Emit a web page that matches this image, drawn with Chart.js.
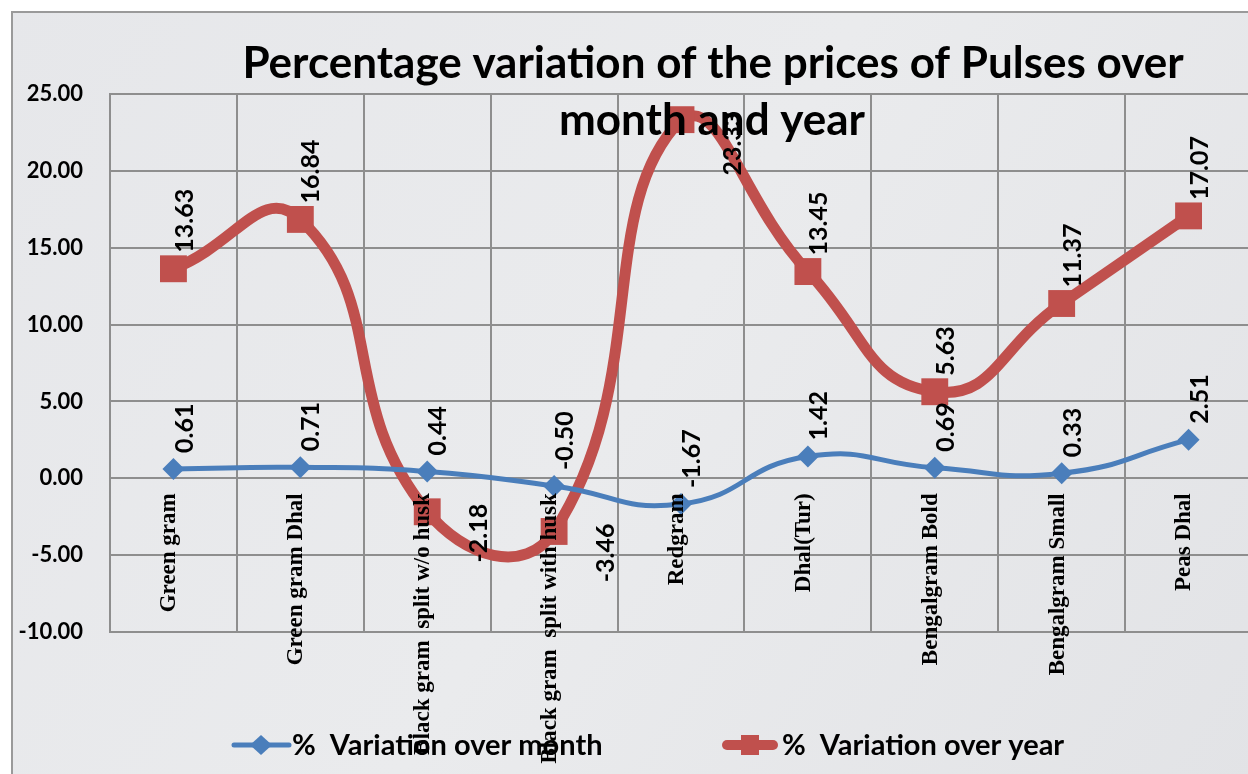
<!DOCTYPE html>
<html>
<head>
<meta charset="utf-8">
<script src="https://cdn.jsdelivr.net/npm/chart.js@4"></script>
<style>
    html, body { margin: 0; padding: 0; overflow: hidden; background: #ffffff; width: 1248px; height: 774px; }
    #pulsesCanvas { display: block; }
</style>
</head>
<body>
<canvas id="pulsesCanvas" width="1271" height="774"></canvas>
<script>
    const categories = [
        'Green gram',
        'Green gram Dhal',
        'Black gram  split w/o husk',
        'Black gram  split with husk',
        'Redgram',
        'Dhal(Tur)',
        'Bengalgram Bold',
        'Bengalgram Small',
        'Peas Dhal'
    ];
    const monthVariation = [0.61, 0.71, 0.44, -0.50, -1.67, 1.42, 0.69, 0.33, 2.51];
    const yearVariation = [13.63, 16.84, -2.18, -3.46, 23.33, 13.45, 5.63, 11.37, 17.07];
    const yTicks = [-10, -5, 0, 5, 10, 15, 20, 25];
    const seriesNames = ['%  Variation over month', '%  Variation over year'];
    const titleLines = ['Percentage variation of the prices of Pulses over', 'month and year'];

    const BLUE = '#4a7ebb';
    const RED = '#c0504d';
    const GRID = '#8e8e8e';

    // фон, рамка
    const backgroundPlugin = {
        id: 'marbleBg',
        beforeDraw(chart) {
            const ctx = chart.ctx;
            ctx.save();
            ctx.fillStyle = '#ffffff';
            ctx.fillRect(0, 0, chart.width, chart.height);
            const g = ctx.createLinearGradient(0, 0, chart.width, chart.height);
            g.addColorStop(0, '#e6e7ea');
            g.addColorStop(0.5, '#eaebed');
            g.addColorStop(1, '#e2e3e6');
            ctx.fillStyle = g;
            ctx.fillRect(12, 12, chart.width, chart.height);
            ctx.strokeStyle = '#9a9a9a';
            ctx.lineWidth = 2;
            ctx.beginPath();
            ctx.moveTo(12, chart.height);
            ctx.lineTo(12, 12);
            ctx.lineTo(chart.width, 12);
            ctx.stroke();
            ctx.restore();
        }
    };

    function drawRotated(ctx, text, x, y, align) {
        ctx.save();
        ctx.translate(x, y);
        ctx.rotate(-Math.PI / 2);
        ctx.textAlign = align;
        ctx.textBaseline = 'middle';
        ctx.fillText(text, 0, 0);
        ctx.restore();
    }

    // подписи значений, категорий, заголовок, легенда
    const overlayPlugin = {
        id: 'overlay',
        afterDatasetsDraw(chart) {
            const ctx = chart.ctx;
            const yScale = chart.scales.y;
            const zeroY = yScale.getPixelForValue(0);
            const maxYear = Math.max(...yearVariation);

            ctx.save();
            ctx.fillStyle = '#000000';

            // категории по линии нуля
            ctx.font = 'bold 23px "Liberation Serif", serif';
            const meta0 = chart.getDatasetMeta(0);
            meta0.data.forEach((pt, i) => {
                drawRotated(ctx, categories[i], pt.x - 4, zeroY + 15, 'right');
            });

            // значения
            ctx.font = 'bold 25px Lato, sans-serif';
            chart.data.datasets.forEach((ds, di) => {
                const meta = chart.getDatasetMeta(di);
                meta.data.forEach((pt, i) => {
                    const v = ds.data[i];
                    const text = v.toFixed(2);
                    if (di === 1 && (v < 0 || v === maxYear)) {
                        drawRotated(ctx, text, pt.x + 52, pt.y - 8, 'right');
                    } else {
                        drawRotated(ctx, text, pt.x + 11, pt.y - 16, 'left');
                    }
                });
            });
            ctx.restore();
        },
        afterDraw(chart) {
            const ctx = chart.ctx;
            ctx.save();
            ctx.fillStyle = '#000000';
            ctx.textAlign = 'center';
            ctx.textBaseline = 'alphabetic';
            ctx.font = 'bold 44px Lato, sans-serif';
            ctx.fillText(titleLines[0], 713, 78);
            ctx.fillText(titleLines[1], 712, 135);

            // легенда
            const ly = 745;
            ctx.lineCap = 'round';
            ctx.strokeStyle = BLUE;
            ctx.lineWidth = 5;
            ctx.beginPath();
            ctx.moveTo(234, ly);
            ctx.lineTo(289, ly);
            ctx.stroke();
            ctx.fillStyle = BLUE;
            ctx.beginPath();
            ctx.moveTo(261, ly - 10);
            ctx.lineTo(272, ly);
            ctx.lineTo(261, ly + 10);
            ctx.lineTo(250, ly);
            ctx.closePath();
            ctx.fill();

            ctx.strokeStyle = RED;
            ctx.lineWidth = 10;
            ctx.beginPath();
            ctx.moveTo(727, ly);
            ctx.lineTo(773, ly);
            ctx.stroke();
            ctx.fillStyle = RED;
            ctx.fillRect(741, ly - 10, 18, 20);

            ctx.fillStyle = '#000000';
            ctx.textAlign = 'left';
            ctx.textBaseline = 'middle';
            ctx.font = 'bold 29px Lato, sans-serif';
            ctx.fillText(seriesNames[0], 292, ly + 1);
            ctx.fillText(seriesNames[1], 782, ly + 1);
            ctx.restore();
        }
    };

    const ctx = document.getElementById('pulsesCanvas').getContext('2d');
    new Chart(ctx, {
        type: 'line',
        data: {
            labels: categories,
            datasets: [
                {
                    label: seriesNames[0],
                    data: monthVariation,
                    borderColor: BLUE,
                    backgroundColor: BLUE,
                    borderWidth: 5,
                    pointStyle: 'rectRot',
                    pointRadius: 11,
                    pointBorderWidth: 0,
                    pointBackgroundColor: BLUE,
                    tension: 0.5,
                    fill: false
                },
                {
                    label: seriesNames[1],
                    data: yearVariation,
                    borderColor: RED,
                    backgroundColor: RED,
                    borderWidth: 11,
                    pointStyle: 'rect',
                    pointRadius: 19,
                    pointBorderWidth: 0,
                    pointBackgroundColor: RED,
                    tension: 0.5,
                    fill: false
                }
            ]
        },
        options: {
            responsive: false,
            animation: false,
            devicePixelRatio: 1,
            layout: { padding: { top: 94, bottom: 142, left: 0, right: 0 } },
            plugins: {
                legend: { display: false },
                title: { display: false },
                tooltip: { enabled: false }
            },
            scales: {
                x: {
                    offset: true,
                    grid: { color: GRID, lineWidth: 2, drawTicks: false, offset: true },
                    border: { color: GRID, width: 2 },
                    ticks: { display: false },
                    afterFit(scale) { scale.height = 0; }
                },
                y: {
                    min: -10,
                    max: 25,
                    afterBuildTicks(scale) { scale.ticks = yTicks.map(v => ({ value: v })); },
                    afterFit(scale) { scale.width = 110; },
                    grid: { color: GRID, lineWidth: 2, drawTicks: false },
                    border: { color: GRID, width: 2 },
                    ticks: {
                        color: '#000000',
                        padding: 27,
                        font: { family: 'Lato', size: 22, weight: 'bold' },
                        callback: function (value) { return Number(value).toFixed(2); }
                    }
                }
            }
        },
        plugins: [backgroundPlugin, overlayPlugin]
    });
</script>
</body>
</html>
